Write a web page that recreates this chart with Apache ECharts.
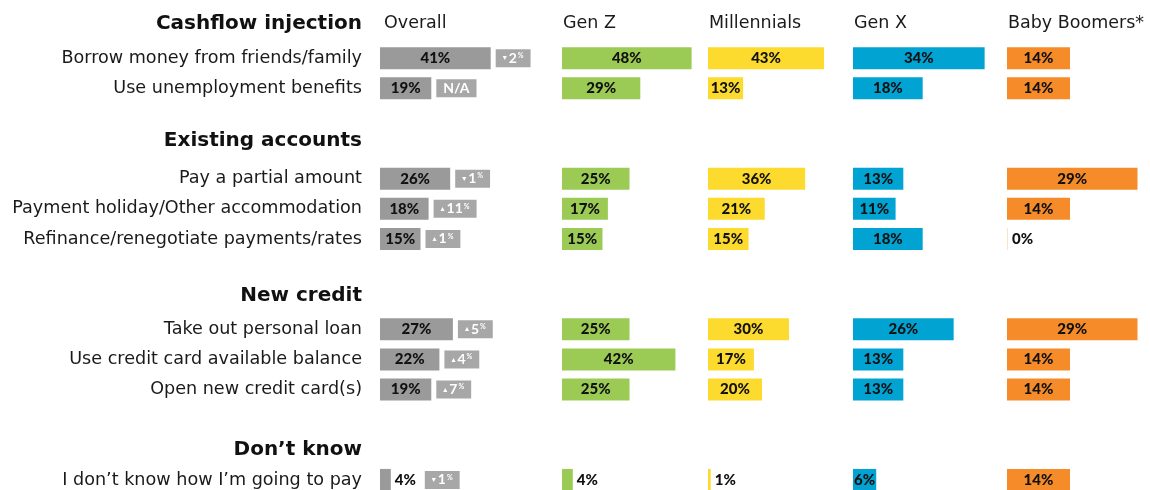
<!DOCTYPE html>
<html>
<head>
<meta charset="utf-8">
<script src="https://cdn.jsdelivr.net/npm/echarts@6/dist/echarts.min.js"></script>
<style>
  html, body { margin: 0; padding: 0; background: #ffffff; overflow: hidden; }
  #chart { width: 1150px; height: 500px; }
</style>
</head>
<body>
<div id="chart"></div>
<script>
// Survey answers, grouped by type of action, split by generation
const groupHeaders = ['Cashflow injection', 'Existing accounts', 'New credit', 'Don’t know'];
const groupSizes = [2, 3, 3, 1];
const itemLabels = [
  'Borrow money from friends/family',
  'Use unemployment benefits',
  'Pay a partial amount',
  'Payment holiday/Other accommodation',
  'Refinance/renegotiate payments/rates',
  'Take out personal loan',
  'Use credit card available balance',
  'Open new credit card(s)',
  'I don’t know how I’m going to pay'
];
const panelTitles = ['Overall', 'Gen Z', 'Millennials', 'Gen X', 'Baby Boomers*'];

const overall     = [41, 19, 26, 18, 15, 27, 22, 19, 4];
const genZ        = [48, 29, 25, 17, 15, 25, 42, 25, 4];
const millennials = [43, 13, 36, 21, 15, 30, 17, 20, 1];
const genX        = [34, 18, 13, 11, 18, 26, 13, 13, 6];
const boomers     = [14, 14, 29, 14, 0, 29, 14, 14, 14];
// change of the overall share versus the previous wave (points)
const overallChange = ['-2', 'N/A', '-1', '+11', '+1', '+5', '+4', '+7', '-1'];

// ---- layout ----
const panelColors = ['#9a9a9a', '#9bcb55', '#fdda2e', '#00a3d2', '#f68b2a'];
const zeroColors  = ['#e6e6e6', '#e3f0d0', '#fef3c0', '#c6e8f4', '#fde3c8'];
const panelLeft   = [380, 562, 708, 853, 1007];
const panelWidth  = [135, 135, 135, 135.5, 135];
const panelMax    = [50, 50, 50, 35, 30];
const headerLift  = [4, 8, 3, 0];
const gridTop = 13, gridHeight = 482;

const panelValues = [overall, genZ, millennials, genX, boomers];

// rows: header, items..., spacer, header, ...
const slots = [];
let itemIdx = 0;
groupHeaders.forEach((h, g) => {
  slots.push({ type: 'header', g: g });
  for (let k = 0; k < groupSizes[g]; k++) slots.push({ type: 'item', idx: itemIdx++ });
  if (g < groupHeaders.length - 1) slots.push({ type: 'blank' });
});
const categories = slots.map((s, i) => 'row' + i);

function rowLabel(value, index) {
  const s = slots[index];
  if (s.type === 'header') return '{h' + s.g + '|' + groupHeaders[s.g] + '}';
  if (s.type === 'item') return '{it|' + itemLabels[s.idx] + '}';
  return '';
}

const headerRich = {};
headerLift.forEach((lift, g) => {
  headerRich['h' + g] = {
    fontFamily: 'DejaVu Sans', fontWeight: 'bold', fontSize: 20, color: '#111',
    padding: [0, 0, lift * 2, 0]
  };
});

const valueFont = { fontFamily: 'Lato', fontWeight: 900, fontSize: 15, color: '#111' };

function barData(vals, p) {
  return slots.map(s => {
    if (s.type !== 'item') return '-';
    const v = vals[s.idx];
    const item = { value: v };
    if (v < 5) item.label = { position: 'right', distance: 4 };
    if (v === 0) item.itemStyle = { color: zeroColors[p] };
    return item;
  });
}

function badgeText(ch) {
  if (ch === 'N/A') return '{na|N/A}';
  const arrow = ch.charAt(0) === '-' ? '▾' : '▴';
  return '{ar|' + arrow + '}{n|' + ch.slice(1) + '}{pc|%}';
}

const grids = [], xAxes = [], yAxes = [], series = [], titles = [];
panelValues.forEach((vals, p) => {
  grids.push({ left: panelLeft[p], top: gridTop, width: panelWidth[p], height: gridHeight, containLabel: false });
  xAxes.push({ type: 'value', gridIndex: p, min: 0, max: panelMax[p], show: false });
  yAxes.push({
    type: 'category', gridIndex: p, data: categories, inverse: true,
    axisLine: { show: false }, axisTick: { show: false }, splitLine: { show: false },
    axisLabel: p === 0 ? {
      show: true, margin: 18, formatter: rowLabel, align: 'right',
      rich: Object.assign({
        it: { fontFamily: 'DejaVu Sans', fontSize: 17.6, color: '#1a1a1a' }
      }, headerRich)
    } : { show: false }
  });
  series.push({
    type: 'bar', xAxisIndex: p, yAxisIndex: p, barWidth: 22, barMinHeight: p === 4 ? 1 : 0,
    itemStyle: { color: panelColors[p] },
    label: Object.assign({ show: true, position: 'inside', formatter: '{c}%' }, valueFont),
    data: barData(vals, p),
    silent: true, animation: false
  });
  titles.push({
    text: panelTitles[p], left: panelLeft[p] + (p === 0 ? 4 : 1), top: 12, padding: 0,
    textStyle: { fontFamily: 'DejaVu Sans', fontWeight: 'normal', fontSize: 17.5, color: '#1a1a1a', lineHeight: 22 }
  });
});

// change badges to the right of the overall bars
series.push({
  type: 'bar', xAxisIndex: 0, yAxisIndex: 0, barWidth: 22, barGap: '-100%',
  itemStyle: { color: 'rgba(0,0,0,0)' },
  silent: true, animation: false,
  data: slots.map(s => {
    if (s.type !== 'item') return '-';
    const v = overall[s.idx];
    return { value: v, change: overallChange[s.idx], label: { distance: v < 5 ? 34 : 5 } };
  }),
  label: {
    show: true, position: 'right',
    backgroundColor: '#a7a7a7', padding: [3, 7, 3, 7],
    formatter: prm => badgeText(prm.data.change),
    rich: {
      ar: { fontFamily: 'DejaVu Sans', fontSize: 8, color: '#ffffff', lineHeight: 12, padding: [0, 2, 0, 0] },
      n:  { fontFamily: 'Lato', fontWeight: 'bold', fontSize: 14, color: '#ffffff', lineHeight: 12 },
      pc: { fontFamily: 'Lato', fontWeight: 'bold', fontSize: 7, color: '#ffffff', lineHeight: 8, verticalAlign: 'top', padding: [0, 0, 0, 1] },
      na: { fontFamily: 'Lato', fontWeight: 'bold', fontSize: 14, color: '#ffffff', lineHeight: 12 }
    }
  }
});

const chart = echarts.init(document.getElementById('chart'), null, { renderer: 'canvas' });
chart.setOption({
  animation: false,
  backgroundColor: '#ffffff',
  title: titles,
  grid: grids,
  xAxis: xAxes,
  yAxis: yAxes,
  series: series
});
</script>
</body>
</html>
